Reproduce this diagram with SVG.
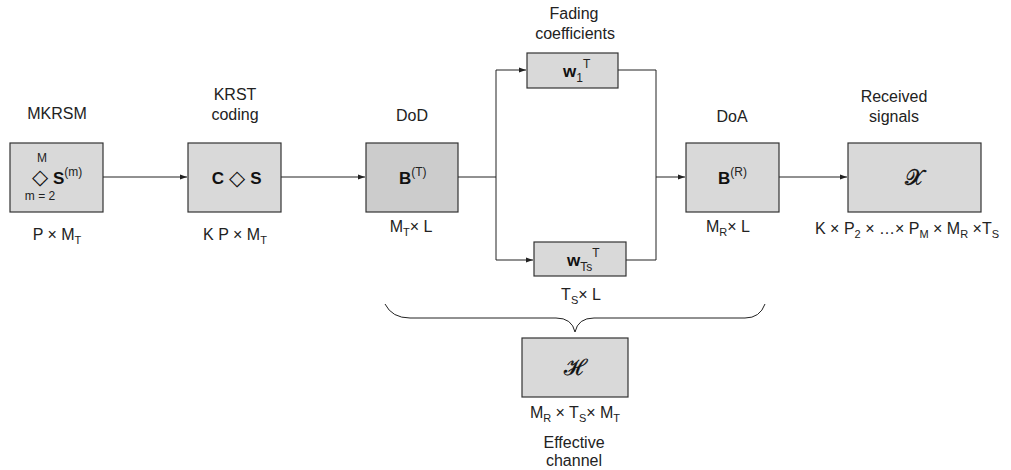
<svg xmlns="http://www.w3.org/2000/svg" width="1011" height="470" viewBox="0 0 1011 470">
<defs>
<marker id="ah" markerWidth="8" markerHeight="6" refX="7" refY="3" orient="auto" markerUnits="userSpaceOnUse">
<path d="M0,0.5 L7,3 L0,5.5 Z" fill="#222"/>
</marker>
<style>
.box{fill:#d9d9d9;stroke:#333;stroke-width:1.2}
.dark{fill:#cccccc}
.lbl{font-family:"Liberation Sans",Arial,sans-serif;font-size:16px;fill:#222;text-anchor:middle}
.c{fill:none;stroke:#222;stroke-width:1}
.b{font-family:"Liberation Sans",Arial,sans-serif;font-weight:bold;font-size:17px;fill:#111}
.sup{font-family:"Liberation Sans",Arial,sans-serif;font-size:12px;fill:#222}
.sub{font-size:11px}
.dia{font-family:"DejaVu Sans",sans-serif;font-size:21px;fill:#111;text-anchor:middle}
.m{font-family:"DejaVu Serif","Liberation Serif",serif;font-size:22px;fill:#111;text-anchor:middle;stroke:#111;stroke-width:0.4}
</style>
</defs>
<rect width="1011" height="470" fill="#fff"/>

<g id="connectors">
<path class="c" d="M103,177 H187" marker-end="url(#ah)"/>
<path class="c" d="M281,177 H365" marker-end="url(#ah)"/>
<path class="c" d="M458,177 H496 V70 H526" marker-end="url(#ah)"/>
<path class="c" d="M496,177 V260 H533" marker-end="url(#ah)"/>
<path class="c" d="M618,70 H656 V177 H685" marker-end="url(#ah)"/>
<path class="c" d="M626,260 H656 V177"/>
<path class="c" d="M779,177 H847" marker-end="url(#ah)"/>
<path class="c" d="M385,304 Q392,318 410,318 H556 Q572,318 575,332 Q578,318 594,318 H745 Q760,318 765,304"/>
</g>

<g id="mkrsm">
<text class="lbl" x="57" y="119">MKRSM</text>
<rect class="box" x="10" y="143" width="93" height="69"/>
<text class="sup" x="42" y="162" text-anchor="middle" font-size="11">M</text>
<text class="dia" x="40" y="184">◇</text>
<text class="b" x="53" y="184">S<tspan class="sup" font-weight="normal" font-size="13" dy="-8">(m)</tspan></text>
<text class="sup" x="40" y="200" text-anchor="middle">m = 2</text>
<text class="lbl" x="57" y="240">P × M<tspan class="sub" dy="4">T</tspan></text>
</g>

<g id="krst">
<text class="lbl" x="235" y="100">KRST</text>
<text class="lbl" x="235" y="120">coding</text>
<rect class="box" x="188" y="143" width="93" height="69"/>
<text class="b" x="218" y="184" text-anchor="middle">C</text>
<text class="dia" x="237" y="185">◇</text>
<text class="b" x="256" y="184" text-anchor="middle">S</text>
<text class="lbl" x="235" y="240">K P × M<tspan class="sub" dy="4">T</tspan></text>
</g>

<g id="dod">
<text class="lbl" x="412" y="121">DoD</text>
<rect class="box dark" x="366" y="143" width="92" height="69"/>
<text class="b" x="399" y="184">B<tspan class="sup" font-weight="normal" font-size="13" dy="-8">(T)</tspan></text>
<text class="lbl" x="411" y="232">M<tspan class="sub" dy="4">T</tspan><tspan dy="-4">× L</tspan></text>
</g>

<g id="w1">
<text class="lbl" x="574" y="19">Fading</text>
<text class="lbl" x="575" y="39">coefficients</text>
<rect class="box" x="527" y="53" width="91" height="35"/>
<text class="b" x="563" y="77">w<tspan class="sup" font-weight="normal" font-size="11" dy="5">1</tspan><tspan class="sup" font-weight="normal" font-size="15" dy="-14">T</tspan></text>
</g>

<g id="wts">
<rect class="box" x="534" y="242" width="92" height="34"/>
<text class="b" x="567" y="266">w<tspan class="sup" font-weight="normal" font-size="11" dy="5">Ts</tspan><tspan class="sup" font-weight="normal" font-size="15" dy="-14">T</tspan></text>
<text class="lbl" x="581" y="300">T<tspan class="sub" dy="4">S</tspan><tspan dy="-4">× L</tspan></text>
</g>

<g id="doa">
<text class="lbl" x="732" y="122">DoA</text>
<rect class="box" x="686" y="143" width="93" height="69"/>
<text class="b" x="718" y="184">B<tspan class="sup" font-weight="normal" font-size="13" dy="-8">(R)</tspan></text>
<text class="lbl" x="728" y="232">M<tspan class="sub" dy="4">R</tspan><tspan dy="-4">× L</tspan></text>
</g>

<g id="received">
<text class="lbl" x="894" y="102">Received</text>
<text class="lbl" x="894" y="122">signals</text>
<rect class="box" x="848" y="143" width="133" height="69"/>
<text class="m" x="914" y="185">𝒳</text>
<text class="lbl" x="907" y="234">K × P<tspan class="sub" dy="4">2</tspan><tspan dy="-4"> × …× P</tspan><tspan class="sub" dy="4">M</tspan><tspan dy="-4"> × M</tspan><tspan class="sub" dy="4">R</tspan><tspan dy="-4"> ×T</tspan><tspan class="sub" dy="4">S</tspan></text>
</g>

<g id="effective">
<rect class="box" x="522" y="338" width="106" height="59"/>
<text class="m" x="575" y="375">ℋ</text>
<text class="lbl" x="575" y="418">M<tspan class="sub" dy="4">R</tspan><tspan dy="-4"> × T</tspan><tspan class="sub" dy="4">S</tspan><tspan dy="-4">× M</tspan><tspan class="sub" dy="4">T</tspan></text>
<text class="lbl" x="574" y="448">Effective</text>
<text class="lbl" x="574" y="466">channel</text>
</g>
</svg>
